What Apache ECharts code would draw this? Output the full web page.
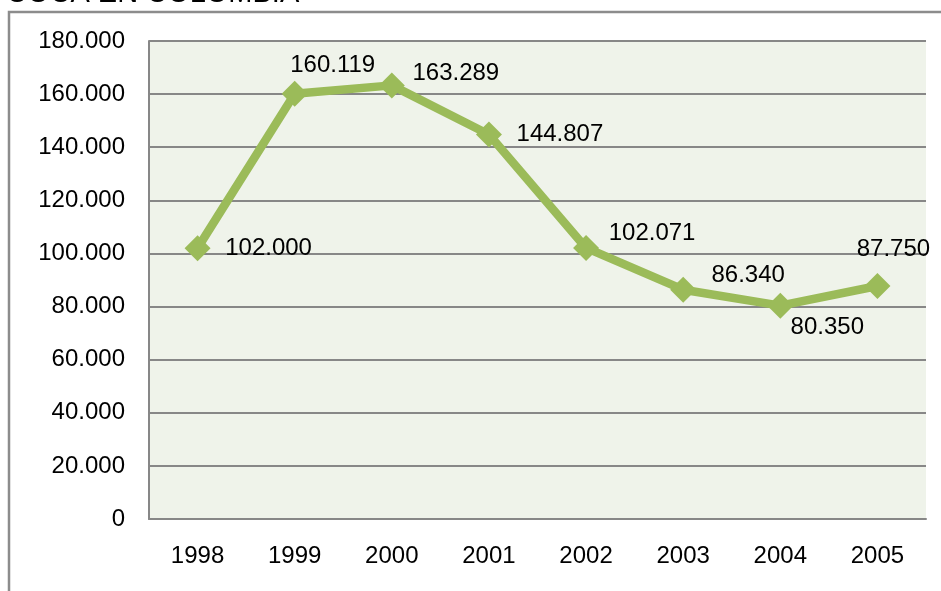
<!DOCTYPE html>
<html><head><meta charset="utf-8">
<script src="https://cdn.jsdelivr.net/npm/echarts@6/dist/echarts.min.js"></script>
<style>html,body{margin:0;padding:0;background:#fff;}#c{width:941px;height:591px;}</style>
</head><body><div id="c"></div>
<script>
var titleText = 'COCA EN COLOMBIA';
var years = ['1998','1999','2000','2001','2002','2003','2004','2005'];
var hectares = [102000, 160119, 163289, 144807, 102071, 86340, 80350, 87750];
// label offsets (style only, px from point centre)
var labelOffsets = [[71,0],[38,-28],[64,-12],[71,0],[66,-15],[65,-14],[47,22],[16,-37]];

function fmt(v){ return String(v).replace(/\B(?=(\d{3})+(?!\d))/g,'.'); }

var chart = echarts.init(document.getElementById('c'), null, {renderer:'canvas'});
var font = 'Liberation Sans, Arial, sans-serif';
chart.setOption({
  animation:false,
  textStyle:{fontFamily:font},
  grid:{left:149,right:15,top:41,bottom:72,show:true,backgroundColor:'#eff3ea',borderWidth:0},
  graphic:[
    {type:'rect',shape:{x:9,y:12,width:1000,height:1000},style:{fill:'none',stroke:'#8c8c8c',lineWidth:2.5},z:-10},
    {type:'text',x:6,y:-21,style:{text:titleText,font:'29px '+font,fill:'#000',textVerticalAlign:'top'}}
  ],
  xAxis:{type:'category',data:years,boundaryGap:true,
    axisLine:{show:true,lineStyle:{color:'#878787',width:2}},
    axisTick:{show:false},
    axisLabel:{color:'#000',fontSize:24,margin:25,fontFamily:font}},
  yAxis:{type:'value',min:0,max:180000,interval:20000,
    axisLine:{show:true,lineStyle:{color:'#878787',width:2}},
    axisTick:{show:false},
    splitLine:{lineStyle:{color:'#878787',width:2}},
    axisLabel:{color:'#000',fontSize:24,margin:24,fontFamily:font,formatter:function(v){return fmt(v);}}},
  series:[{type:'line',
    data:hectares.map(function(v,i){return {value:v,label:{offset:labelOffsets[i]}};}),
    lineStyle:{color:'#9bbb59',width:8.5},
    itemStyle:{color:'#9bbb59'},
    symbol:'diamond',symbolSize:26,
    label:{show:true,position:'inside',align:'center',verticalAlign:'middle',color:'#000',fontSize:24,fontFamily:font,
      formatter:function(p){return fmt(p.value);}}
  }]
});
</script></body></html>
